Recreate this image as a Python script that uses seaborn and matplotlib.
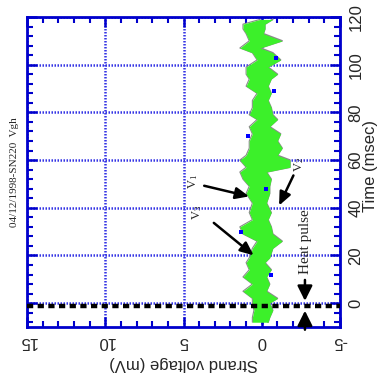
import matplotlib
matplotlib.use("Agg")
import matplotlib.pyplot as plt
import seaborn as sns
import pandas as pd
from matplotlib.ticker import MultipleLocator

# ---- data (time in msec, strand voltage in mV) ----
time_ms = [119, 117, 115, 113, 110, 107, 105, 102, 99, 96, 94, 91, 88, 85, 82,
           79, 77, 74, 71, 68, 65, 62, 60, 57, 55, 52, 49, 46, 42, 38, 35, 32,
           29, 26, 23, 19, 17, 14, 11, 8, 5, 2, 0, -3, -6, -8]
v_upper = [0.1, 1.2, 1.2, 1.0, 0.8, 1.4, 0.6, 0.3, 1.0, 1.0, 0.8, 1.0, 0.3, 0.6, 0.6,
           0.8, 0.3, 0.8, 0.6, 0.8, 0.8, 1.0, 1.4, 1.0, 1.4, 1.2, 0.8, 1.0, 0.6, 0.8, 0.6, 1.4,
           1.2, 0.3, 0.6, 0.8, 1.0, 0.8, 1.2, 0.6, 1.2, 0.6, 0.6, 0.5, 0.6, 0.6]
v_lower = [-0.7, -0.2, -0.2, -0.1, -1.3, 0.1, -0.7, -1.2, -0.4, -1.0, -0.6, -0.4, -0.6, -0.4, -0.6,
           -0.7, -1.0, -0.5, -1.2, -1.0, -1.3, -1.0, -1.8, -1.8, -0.3, -0.6, -0.5, -0.5, -0.3, -0.6, -0.4, -0.6,
           -0.7, -1.3, -0.7, -0.5, -0.2, -0.6, -0.3, -0.5, -0.3, -1.0, -0.5, -0.7, -0.5, -0.4]
dot_time = [103, 89, 70, 48, 30, 12]
dot_volt = [-0.9, -0.8, 0.9, -0.3, 1.3, -0.6]

volt_ticks = [15, 10, 5, 0, -5]
time_ticks = [0, 20, 40, 60, 80, 100, 120]
heat_pulse_time = -1.0
title_text = "04/12/1998-SN220  Vgh"

df = pd.DataFrame({"time": time_ms, "upper": v_upper, "lower": v_lower})
dots = pd.DataFrame({"time": dot_time, "volt": dot_volt})

sns.set_style("white")
plt.rcParams["axes.unicode_minus"] = False
plt.rcParams["font.family"] = ["Liberation Sans", "DejaVu Sans"]

fig = plt.figure(figsize=(3.78, 3.91), dpi=100)
ax = fig.add_axes([27 / 378, 1 - 327 / 391, 313 / 378, 310 / 391])

blue = "#0000CC"
green = "#3CF02A"

ax.fill_betweenx(df["time"], df["lower"], df["upper"], color=green, lw=0, zorder=3)
sns.lineplot(data=df, x="lower", y="time", orient="y", sort=False, estimator=None,
             color="#8a8a8a", lw=1.2, ax=ax, zorder=2.9)
sns.lineplot(data=df, x="upper", y="time", orient="y", sort=False, estimator=None,
             color="#8a8a8a", lw=0.8, ax=ax, zorder=2.9)
sns.scatterplot(data=dots, x="volt", y="time", color="#0000FF", s=5, marker="s",
                linewidth=0, ax=ax, zorder=3.5)

ax.axhline(heat_pulse_time, color="black", lw=3.2, ls=(0, (1.4, 1.0)),
           dash_capstyle="butt", zorder=4)

ax.set_xlim(15, -5)
ax.set_ylim(-10, 120)
ax.set_xticks(volt_ticks)
ax.set_yticks(time_ticks)
ax.xaxis.set_minor_locator(MultipleLocator(1))
ax.yaxis.set_minor_locator(MultipleLocator(4))
ax.grid(True, which="major", color="#3535E5", lw=1.8, ls=(0, (0.6, 0.6)), zorder=1)

for s in ax.spines.values():
    s.set_color(blue)
    s.set_linewidth(2)
ax.tick_params(which="both", direction="in", top=True, right=True, left=True, bottom=True,
               color=blue, labelleft=False, labelright=True)
ax.tick_params(which="major", length=7, width=1.8)
ax.tick_params(which="minor", length=4, width=1.5)
ax.tick_params(axis="x", labelsize=12, labelrotation=180, pad=5)
ax.tick_params(axis="y", labelsize=12, labelrotation=90, pad=6)
for lab in ax.get_yticklabels():
    lab.set_va("center")

ax.set_xlabel("Strand voltage (mV)", fontsize=12, rotation=180)
ax.xaxis.set_label_coords(0.5, -(363 - 327) / 310)
ax.yaxis.set_label_position("right")
ax.set_ylabel("Time (msec)", fontsize=12, rotation=90)
ax.yaxis.set_label_coords((371 - 27) / 313, 0.52)
ax.xaxis.label.set_va("center")
ax.xaxis.label.set_ha("center")
ax.yaxis.label.set_va("center")
ax.yaxis.label.set_ha("center")

serif = ["Liberation Serif", "DejaVu Serif"]
arrow_kw = dict(arrowstyle="-|>,head_length=0.8,head_width=0.35", color="black", lw=1.8)

ax.text(4.36, 51.2, r"$\mathregular{V_1}$", rotation=90, fontsize=9, family=serif,
        ha="center", va="center", zorder=6)
ax.annotate("", xy=(0.64, 44.5), xytext=(3.85, 49.5), arrowprops=arrow_kw, zorder=6)
ax.text(4.1, 38.2, r"$\mathregular{V_3}$", rotation=90, fontsize=9, family=serif,
        ha="center", va="center", zorder=6)
ax.annotate("", xy=(0.38, 19.3), xytext=(3.2, 34.4), arrowprops=arrow_kw, zorder=6)
ax.text(-2.37, 58.3, r"$\mathregular{V_2}$", rotation=90, fontsize=9, family=serif,
        ha="center", va="center", zorder=6)
ax.annotate("", xy=(-1.03, 39.9), xytext=(-2.1, 54.6), arrowprops=arrow_kw, zorder=6)

ax.text(-2.82, 25.6, "Heat pulse", rotation=90, fontsize=11, family=serif,
        ha="center", va="center", zorder=6)
hp_kw = dict(arrowstyle="-|>,head_length=0.9,head_width=0.45", color="black", lw=1.8)
ax.annotate("", xy=(-2.76, -0.2), xytext=(-2.76, 10.9), arrowprops=hp_kw, zorder=6,
            annotation_clip=False)
ax.annotate("", xy=(-2.76, -2.0), xytext=(-2.76, -12.3), arrowprops=hp_kw, zorder=6,
            annotation_clip=False)

fig.text(15 / 378, 1 - 172 / 391, title_text, rotation=90, fontsize=8, family=serif,
         ha="center", va="center")

fig.savefig("out.png", dpi=100)
